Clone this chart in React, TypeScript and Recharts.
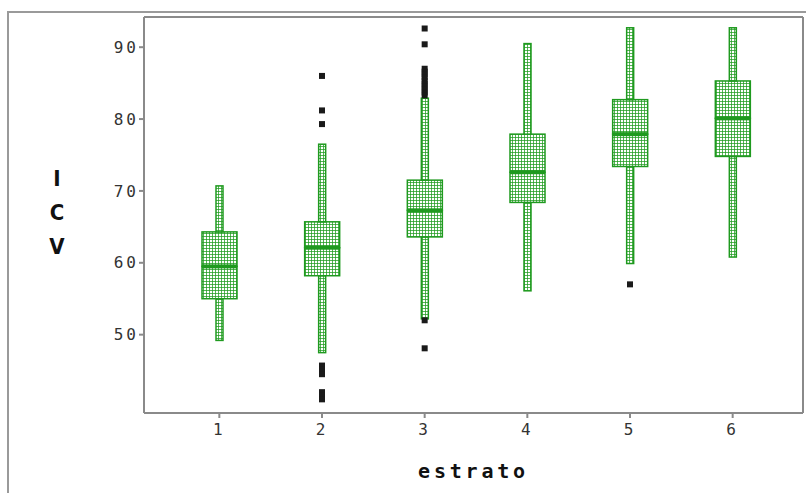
import React from 'react';
import { ComposedChart, Bar, Scatter, XAxis, YAxis } from 'recharts';

// ICV por estrato (box plot)
const categories = ['1', '2', '3', '4', '5', '6'];
const whiskerLow = [49.2, 47.5, 52.2, 56.1, 59.9, 60.8];
const q1 = [55.0, 58.2, 63.6, 68.4, 73.4, 74.8];
const median = [59.5, 62.1, 67.3, 72.6, 77.9, 80.1];
const q3 = [64.3, 65.7, 71.5, 77.9, 82.7, 85.3];
const whiskerHigh = [70.7, 76.5, 82.9, 90.5, 92.7, 92.7];
const outliers: number[][] = [
  [],
  [86.0, 81.2, 79.3, 45.7, 45.1, 44.5, 42.0, 41.5, 41.0],
  [92.6, 90.4, 87.0, 86.6, 86.2, 85.8, 85.3, 84.9, 84.5, 84.1, 83.7, 83.3, 52.0, 48.1],
  [],
  [57.0],
  [],
];
const yTicks = [50, 60, 70, 80, 90];

const GREEN = '#1f9a1f';
const maxOut = Math.max(...outliers.map((o) => o.length));

const rows = categories.map((c, i) => {
  const row: Record<string, any> = {
    estrato: c,
    base: whiskerLow[i],
    lowWhisker: q1[i] - whiskerLow[i],
    lowBox: median[i] - q1[i],
    highBox: q3[i] - median[i],
    highWhisker: whiskerHigh[i] - q3[i],
  };
  outliers[i].forEach((v, k) => {
    row['o' + k] = v;
  });
  return row;
});

const Whisker = (props: any) => {
  const { x, y, width, height } = props;
  if (!isFinite(y) || !isFinite(height)) return null;
  const w = 7;
  return (
    <rect
      x={x + width / 2 - w / 2}
      y={y}
      width={w}
      height={height}
      fill="url(#stipple)"
      stroke={GREEN}
      strokeWidth={1.5}
    />
  );
};

const BoxPart = (props: any) => {
  const { x, y, width, height, withMedian } = props;
  if (!isFinite(y) || !isFinite(height)) return null;
  return (
    <g>
      <rect x={x} y={y} width={width} height={height} fill="url(#stipple)" stroke={GREEN} strokeWidth={1.5} />
      {withMedian && <rect x={x} y={y + height - 2} width={width} height={4} fill={GREEN} />}
    </g>
  );
};

const OutlierDot = (props: any) => {
  const { cx, cy } = props;
  if (cx == null || cy == null || !isFinite(cx) || !isFinite(cy)) return <g />;
  return <rect x={cx - 3} y={cy - 3} width={6} height={6} fill="#1a1a1a" />;
};

const YLabel = (props: any) => {
  const vb = props.viewBox || { x: 84, y: 17, width: 60, height: 396 };
  const cx = vb.x - 27;
  const cy = vb.y + vb.height / 2;
  const style = {
    fontFamily: "'DejaVu Sans Condensed', 'DejaVu Sans'",
    fontWeight: 'bold' as const,
    fontSize: 22,
    fill: '#111',
  };
  return (
    <g>
      {['I', 'C', 'V'].map((ch, i) => (
        <text key={ch} x={cx} y={cy - 37 + i * 34} textAnchor="middle" dominantBaseline="central" style={style}>
          {ch}
        </text>
      ))}
    </g>
  );
};

const XLabel = (props: any) => {
  const vb = props.viewBox || { x: 144, y: 413, width: 659, height: 30 };
  return (
    <text
      x={vb.x + vb.width / 2}
      y={vb.y + 58}
      textAnchor="middle"
      dominantBaseline="central"
      style={{ fontFamily: 'DejaVu Sans Mono', fontWeight: 'bold', fontSize: 20, letterSpacing: 3.8, fill: '#111' }}
    >
      estrato
    </text>
  );
};

const tickStyle = { fontFamily: 'DejaVu Sans Mono', fontSize: 16, fill: '#333', letterSpacing: 3 };
const axisGray = { stroke: '#8a8a8a', strokeWidth: 2 };

export default function App() {
  return (
    <div style={{ position: 'absolute', left: 0, top: 0, width: 806, height: 493, background: '#fff' }}>
      <div
        style={{
          position: 'absolute',
          left: 7,
          top: 11,
          width: 820,
          height: 500,
          borderLeft: '2px solid #9a9a9a',
          borderTop: '2px solid #9a9a9a',
        }}
      />
      <div style={{ position: 'absolute', left: 0, top: 0 }}>
        <ComposedChart
          width={806}
          height={493}
          data={rows}
          margin={{ top: 16, right: 2, bottom: 50, left: 84 }}
          barCategoryGap={0}
        >
          <defs>
            <pattern id="stipple" width={3} height={3} patternUnits="userSpaceOnUse">
              <rect x={0} y={0} width={3} height={3} fill="#fff" />
              <rect x={2} y={0} width={1} height={3} fill={GREEN} opacity={0.75} />
              <rect x={0} y={2} width={3} height={1} fill={GREEN} opacity={0.75} />
            </pattern>
          </defs>
          <XAxis
            dataKey="estrato"
            type="category"
            padding={{ left: 24, right: 19 }}
            axisLine={axisGray}
            tickLine={axisGray}
            tickSize={5}
            tickMargin={6}
            tick={tickStyle}
            height={30}
            label={<XLabel />}
          />
          <XAxis
            xAxisId="top"
            dataKey="estrato"
            orientation="top"
            padding={{ left: 24, right: 19 }}
            axisLine={axisGray}
            tick={false}
            tickLine={false}
            height={1}
          />
          <YAxis
            type="number"
            domain={[39.1, 94.2]}
            ticks={yTicks}
            allowDataOverflow
            axisLine={axisGray}
            tickLine={axisGray}
            tickSize={5}
            tickMargin={0}
            tick={tickStyle}
            width={60}
            label={<YLabel />}
          />
          <YAxis
            yAxisId="right"
            orientation="right"
            type="number"
            domain={[39.1, 94.2]}
            allowDataOverflow
            axisLine={axisGray}
            tick={false}
            tickLine={false}
            width={1}
          />
          <Bar dataKey="base" stackId="box" barSize={35} fill="transparent" isAnimationActive={false} />
          <Bar dataKey="lowWhisker" stackId="box" barSize={35} shape={<Whisker />} isAnimationActive={false} />
          <Bar dataKey="lowBox" stackId="box" barSize={35} shape={<BoxPart />} isAnimationActive={false} />
          <Bar
            dataKey="highBox"
            stackId="box"
            barSize={35}
            shape={(p: any) => <BoxPart {...p} withMedian />}
            isAnimationActive={false}
          />
          <Bar dataKey="highWhisker" stackId="box" barSize={35} shape={<Whisker />} isAnimationActive={false} />
          {Array.from({ length: maxOut }, (_, k) => (
            <Scatter
              key={k}
              dataKey={'o' + k}
              fill="#1a1a1a"
              shape={<OutlierDot />}
              isAnimationActive={false}
            />
          ))}
        </ComposedChart>
      </div>
    </div>
  );
}
